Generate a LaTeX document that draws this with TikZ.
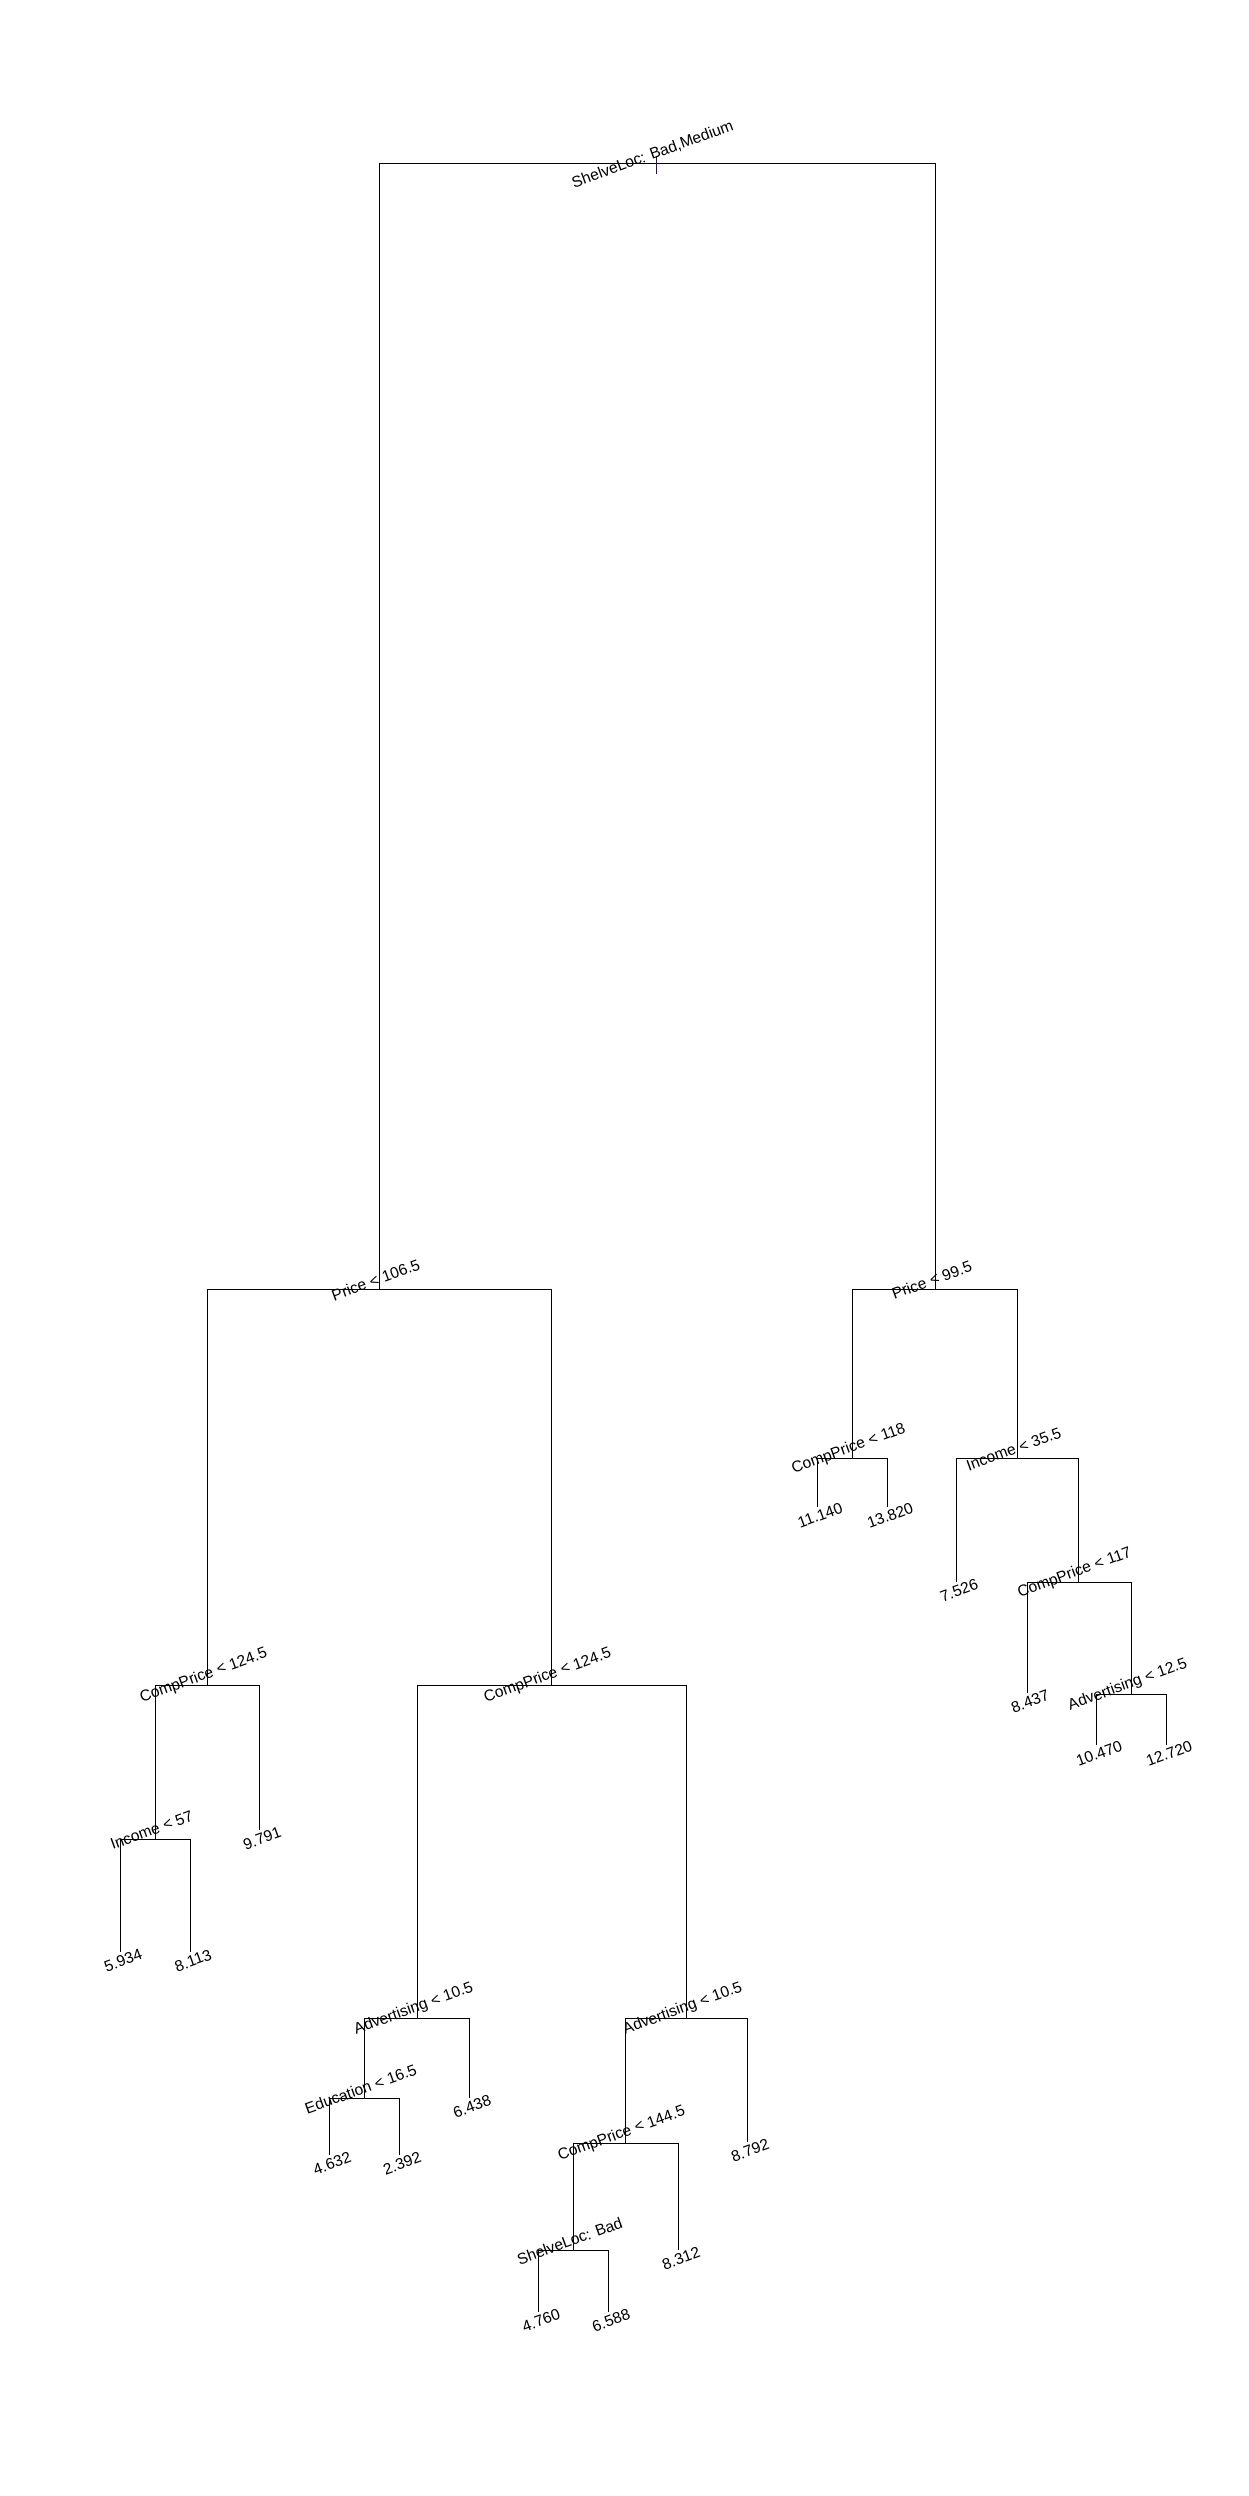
\documentclass[tikz,border=0pt]{standalone}
\usepackage{fontspec}
\setmainfont{Liberation Sans}
\definecolor{markviolet}{RGB}{45,15,95}
\begin{document}
\begin{tikzpicture}[x=0.5pt, y=-0.5pt, line width=0.5pt,
  every node/.style={font=\fontsize{7.8}{9}\selectfont, rotate=20, inner sep=0pt},
  split/.style={yshift=4.8pt},
  leaf/.style={yshift=-4.5pt}]
  \useasboundingbox (0,0) rectangle (1248,2496);
  % split points
  \coordinate (root) at (656,163.5);
  \coordinate (p1) at (379,1289);
  \coordinate (p2) at (935,1289);
  \coordinate (c1) at (207,1685);
  \coordinate (c2) at (551,1685);
  \coordinate (i1) at (155,1839);
  \coordinate (a1) at (417,2018);
  \coordinate (e1) at (364,2098);
  \coordinate (a2) at (686,2018);
  \coordinate (c3) at (625,2143);
  \coordinate (s1) at (573,2250);
  \coordinate (c4) at (852,1458);
  \coordinate (i2) at (1017,1458);
  \coordinate (c5) at (1078,1582);
  \coordinate (a3) at (1131,1694);
  % leaves
  \coordinate (l1) at (120,1952);
  \coordinate (l2) at (190,1952);
  \coordinate (l3) at (259,1830);
  \coordinate (l4) at (329,2155);
  \coordinate (l5) at (399,2155);
  \coordinate (l6) at (469,2098);
  \coordinate (l7) at (538,2312);
  \coordinate (l8) at (608,2312);
  \coordinate (l9) at (678,2250);
  \coordinate (l10) at (747,2142);
  \coordinate (l11) at (817,1507);
  \coordinate (l12) at (887,1507);
  \coordinate (l13) at (956,1582);
  \coordinate (l14) at (1027,1693);
  \coordinate (l15) at (1096,1745);
  \coordinate (l16) at (1166,1745);
  % branches
  \foreach \s/\l/\r in {root/p1/p2, p1/c1/c2, c1/i1/l3, i1/l1/l2,
      c2/a1/a2, a1/e1/l6, e1/l4/l5, a2/c3/l10, c3/s1/l9, s1/l7/l8,
      p2/c4/i2, c4/l11/l12, i2/l13/c5, c5/l14/a3, a3/l15/l16}
    \draw (\l) |- (\s) -| (\r);
  \draw[markviolet] ([yshift=4pt]root) -- ([yshift=-5pt]root);
  % split labels
  \node[split] (root-t) at (root) {ShelveLoc: Bad,Medium};
  \node[split] (p1-t) at (p1) {Price < 106.5};
  \node[split] (p2-t) at (p2) {Price < 99.5};
  \node[split] (c1-t) at (c1) {CompPrice < 124.5};
  \node[split] (c2-t) at (c2) {CompPrice < 124.5};
  \node[split] (i1-t) at (i1) {Income < 57};
  \node[split] (a1-t) at (a1) {Advertising < 10.5};
  \node[split] (e1-t) at (e1) {Education < 16.5};
  \node[split] (a2-t) at (a2) {Advertising < 10.5};
  \node[split] (c3-t) at (c3) {CompPrice < 144.5};
  \node[split] (s1-t) at (s1) {ShelveLoc: Bad};
  \node[split] (c4-t) at (c4) {CompPrice < 118};
  \node[split] (i2-t) at (i2) {Income < 35.5};
  \node[split] (c5-t) at (c5) {CompPrice < 117};
  \node[split] (a3-t) at (a3) {Advertising < 12.5};
  % leaf labels
  \foreach \n/\v in {l1/5.934, l2/8.113, l3/9.791, l4/4.632, l5/2.392,
      l6/6.438, l7/4.760, l8/6.588, l9/8.312, l10/8.792, l11/11.140,
      l12/13.820, l13/7.526, l14/8.437, l15/10.470, l16/12.720}
    \node[leaf] (\n-t) at (\n) {\v};
\end{tikzpicture}
\end{document}
